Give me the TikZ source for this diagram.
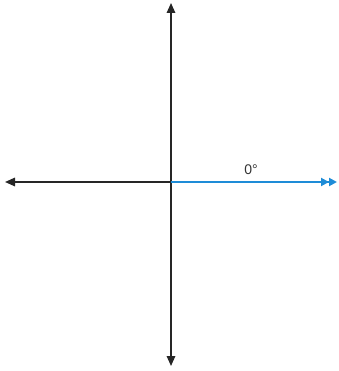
\documentclass[tikz,border=0pt]{standalone}
\usepackage{fontspec}
\setmainfont{Liberation Sans}
\usetikzlibrary{arrows.meta}

\begin{document}
\begin{tikzpicture}[x=1pt,y=-1pt]
        % pixel units, y downwards
        \useasboundingbox (0,0) rectangle (338,371);
        \definecolor{rayblue}{RGB}{30,140,215}

        \coordinate (O) at (171,182);
        \coordinate (N) at (171,3);
        \coordinate (S) at (171,366);
        \coordinate (W) at (5,182);
        \coordinate (E) at (337,182);

        % axes
        \draw[line width=1.6pt,black!85,-{Triangle[length=10pt,width=8.5pt]}] (O) -- (N);
        \draw[line width=1.6pt,black!85,-{Triangle[length=10pt,width=8.5pt]}] (O) -- (S);
        \draw[line width=1.6pt,black!85,-{Triangle[length=10pt,width=8.5pt]}] (O) -- (W);

        % ray at 0 degrees
        \draw[line width=2.2pt,rayblue,-{Triangle[length=8pt,width=8pt]Triangle[length=8pt,width=8pt]}] (O) -- (E);

        \node[font=\fontsize{14}{16}\selectfont,text=black!80] (lbl) at (251,170) {0°};
    \end{tikzpicture}
\end{document}
